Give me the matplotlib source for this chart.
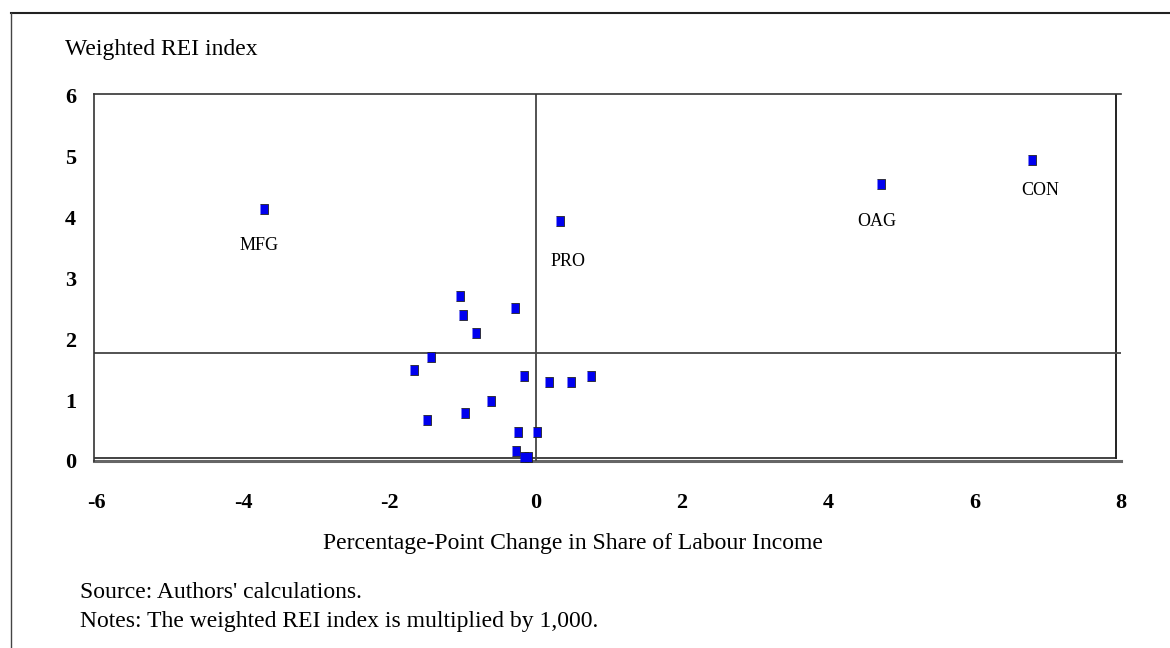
import matplotlib.pyplot as plt
from matplotlib.lines import Line2D

# change in labour income share (pp) vs weighted REI index (x1000)
share_change = [-3.72, 0.33, 4.72, 6.78,
                -1.04, -0.29, -1.00, -0.82, -1.43, -1.66, -0.16, 0.18,
                0.48, 0.76, -0.61, -0.97, -1.49, -0.25, 0.01, -0.27,
                -0.16, -0.11]
rei_index = [4.13, 3.93, 4.54, 4.94,
             2.71, 2.51, 2.40, 2.10, 1.70, 1.49, 1.39, 1.29,
             1.29, 1.39, 0.99, 0.78, 0.68, 0.47, 0.47, 0.17,
             0.07, 0.07]
labels = ['MFG', 'PRO', 'OAG', 'CON']
label_offsets = [(-3, -26), (6, -29), (-3, -27), (6, -22)]
avg_rei = 1.77
xticks = [-6, -4, -2, 0, 2, 4, 6, 8]
yticks = [0, 1, 2, 3, 4, 5, 6]

plt.rcParams['font.family'] = ['Liberation Serif', 'DejaVu Serif']

W, H = 1170, 648
fig = plt.figure(figsize=(W / 100, H / 100), dpi=100)
ax = fig.add_axes([94 / W, (H - 461) / H, (1121 - 94) / W, (461 - 94) / H])
ax.set_xlim(-6.04, 8)
ax.set_ylim(0, 6.02)

# frame: left/top spines, right and bottom drawn a bit inside like the original
for s in ['right', 'bottom']:
    ax.spines[s].set_visible(False)
for s in ['left', 'top']:
    ax.spines[s].set_color('#333333')
    ax.spines[s].set_linewidth(1.2)
ax.axvline(7.93, ymin=0.008, color='#222222', lw=1.4)
ax.axhline(0.05, xmax=0.995, color='#222222', lw=1.2)
ax.axhline(0, color='#666666', lw=2.2, clip_on=False)

# quadrant lines
ax.axhline(avg_rei, color='#444444', lw=1.3)
ax.axvline(0, color='#444444', lw=1.3)

ax.plot(share_change, rei_index, linestyle='none',
        marker=[(-3.8, -4), (3.8, -4), (3.8, 4), (-3.8, 4)], markersize=6.5,
        markerfacecolor='#0000ee', markeredgecolor='#222222', markeredgewidth=0.6,
        zorder=5, clip_on=False)

for i, lab in enumerate(labels):
    ax.annotate(lab, (share_change[i], rei_index[i]), xytext=label_offsets[i],
                textcoords='offset points', ha='center', va='center', fontsize=13)

ax.set_xticks(xticks)
ax.set_yticks(yticks)
ax.set_xticklabels([str(t) for t in xticks], fontsize=16, fontweight='bold')
ax.set_yticklabels([str(t) for t in yticks], fontsize=16, fontweight='bold')
ax.tick_params(axis='x', length=0, pad=23)
ax.tick_params(axis='y', length=0, pad=13)

fig.text(65 / W, 1 - 55 / H, 'Weighted REI index', fontsize=17, va='baseline')
fig.text(573 / W, 1 - 549 / H, 'Percentage-Point Change in Share of Labour Income',
         fontsize=17, ha='center', va='baseline')
fig.text(80 / W, 1 - 598 / H, "Source: Authors' calculations.", fontsize=17, va='baseline')
fig.text(80 / W, 1 - 627 / H, 'Notes: The weighted REI index is multiplied by 1,000.',
         fontsize=17, va='baseline')

# outer border of the exhibit
fig.add_artist(Line2D([11 / W, 1], [1 - 13 / H, 1 - 13 / H], transform=fig.transFigure,
                      color='#222222', lw=1.5))
fig.add_artist(Line2D([11 / W, 11 / W], [0, 1 - 13 / H], transform=fig.transFigure,
                      color='#444444', lw=1.0))

fig.savefig('out.png', dpi=100)
